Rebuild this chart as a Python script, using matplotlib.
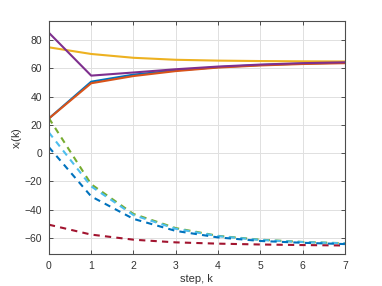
import matplotlib
matplotlib.use("Agg")
import matplotlib.pyplot as plt

plt.rcParams['font.family'] = ['Liberation Sans', 'DejaVu Sans']

steps = [0, 1, 2, 3, 4, 5, 6, 7]

solid_blue   = [24.5, 50.5, 55.5, 58.5, 60.8, 62.3, 63.3, 64.0]
solid_orange = [24.5, 49.4, 54.5, 58.0, 60.5, 62.0, 63.0, 63.6]
solid_yellow = [74.8, 70.1, 67.4, 66.0, 65.4, 65.1, 64.9, 64.8]
solid_purple = [85.1, 54.8, 57.0, 59.3, 61.2, 62.6, 63.6, 64.2]

dash_green  = [24.7, -22.0, -43.0, -53.0, -58.5, -61.2, -62.8, -63.7]
dash_lblue  = [14.6, -23.5, -43.8, -53.5, -58.7, -61.4, -62.9, -63.8]
dash_red    = [-50.6, -57.6, -61.2, -63.1, -64.0, -64.6, -65.0, -65.3]
dash_dblue  = [4.2, -30.6, -46.5, -55.0, -59.6, -62.1, -63.4, -64.3]

c_blue = (0, 0.447, 0.741)
c_orange = (0.85, 0.325, 0.098)
c_yellow = (0.929, 0.694, 0.125)
c_purple = (0.494, 0.184, 0.556)
c_green = (0.466, 0.674, 0.188)
c_lblue = (0.301, 0.745, 0.933)
c_red = (0.635, 0.078, 0.184)

fig = plt.figure(figsize=(3.82, 2.86), dpi=100)
ax = fig.add_axes([0.128, 0.111, 0.775, 0.816])

lw = 1.5
ax.plot(steps, solid_blue, color=c_blue, lw=lw)
ax.plot(steps, solid_orange, color=c_orange, lw=lw)
ax.plot(steps, solid_yellow, color=c_yellow, lw=lw)
ax.plot(steps, solid_purple, color=c_purple, lw=lw)
ax.plot(steps, dash_green, color=c_green, lw=lw, ls=(0, (3, 2.5)))
ax.plot(steps, dash_lblue, color=c_lblue, lw=lw, ls=(0, (3, 2.5)))
ax.plot(steps, dash_red, color=c_red, lw=lw, ls=(0, (3, 2.5)))
ax.plot(steps, dash_dblue, color=c_blue, lw=lw, ls=(0, (3, 2.5)))

ax.set_xlim(0, 7)
ax.set_ylim(-71.5, 93.5)
ax.set_xticks(range(0, 8))
ax.set_yticks(range(-60, 81, 20))
ax.grid(True, color=(0.88, 0.88, 0.88), lw=0.7)
ax.set_axisbelow(True)
gray = (0.2, 0.2, 0.2)
for s in ax.spines.values():
    s.set_color((0.3, 0.3, 0.3))
    s.set_linewidth(0.8)
ax.tick_params(direction='in', top=True, right=True, labelsize=7.5,
               colors=(0.3, 0.3, 0.3), labelcolor=gray, length=3, width=0.7, pad=5)
ax.set_xlabel('step, k', fontsize=8, color=gray, labelpad=2)
ax.set_ylabel(r'x$_{\mathregular{i}}$(k)', fontsize=8, color=gray, labelpad=0)

fig.savefig('out.png', dpi=100)
